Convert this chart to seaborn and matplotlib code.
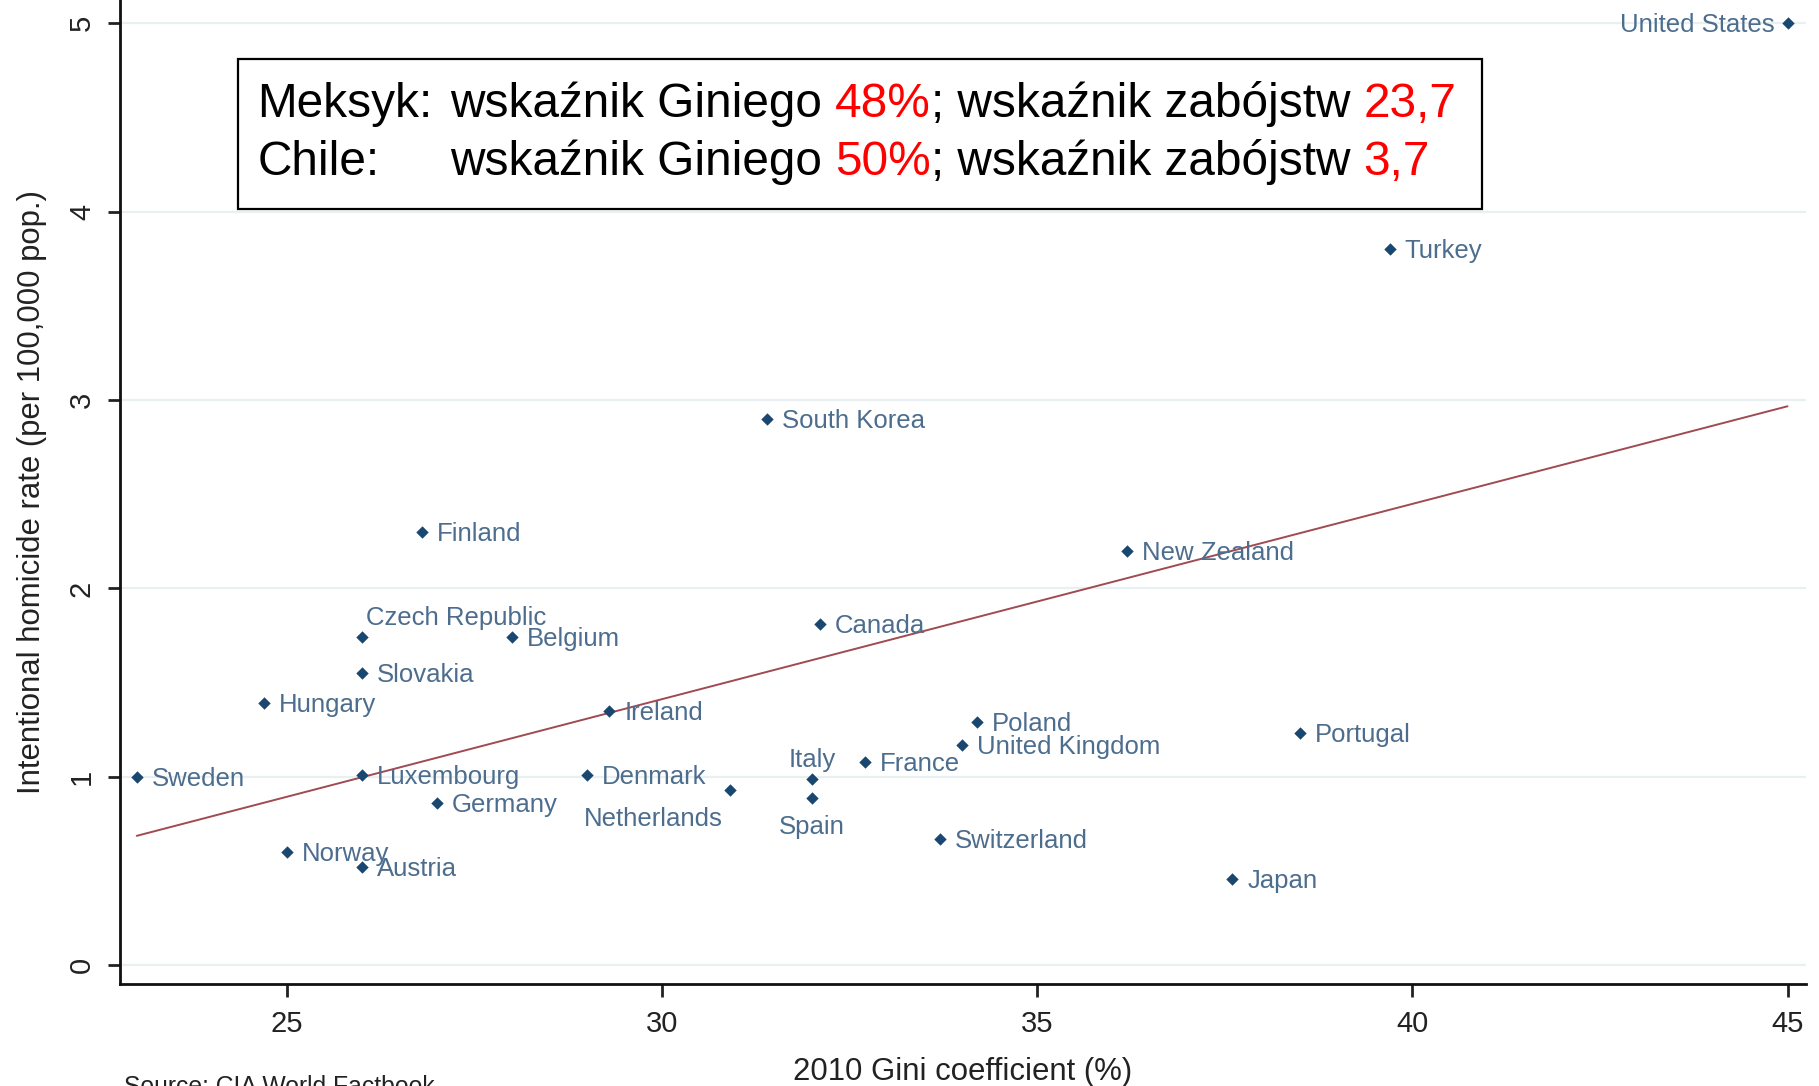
import numpy as np
import pandas as pd
import seaborn as sns
import matplotlib.pyplot as plt
from matplotlib.patches import Rectangle

# data
countries = ["United States", "Turkey", "South Korea", "Finland", "New Zealand",
             "Czech Republic", "Belgium", "Canada", "Slovakia", "Hungary", "Ireland",
             "Poland", "United Kingdom", "Portugal", "France", "Italy", "Spain",
             "Sweden", "Luxembourg", "Denmark", "Netherlands", "Germany",
             "Switzerland", "Japan", "Norway", "Austria"]
gini = [45.0, 39.7, 31.4, 26.8, 36.2,
        26.0, 28.0, 32.1, 26.0, 24.7, 29.3,
        34.2, 34.0, 38.5, 32.7, 32.0, 32.0,
        23.0, 26.0, 29.0, 30.9, 27.0,
        33.7, 37.6, 25.0, 26.0]
homicide = [5.0, 3.80, 2.90, 2.30, 2.20,
            1.74, 1.74, 1.81, 1.55, 1.39, 1.35,
            1.29, 1.17, 1.23, 1.08, 0.99, 0.89,
            1.00, 1.01, 1.01, 0.93, 0.86,
            0.67, 0.46, 0.60, 0.52]

x_ticks = [25, 30, 35, 40, 45]
y_ticks = [0, 1, 2, 3, 4, 5]

# label placement exceptions (default: right of the marker)
label_side = {"United States": "left", "Czech Republic": "above_right", "Italy": "above",
              "Spain": "below", "Netherlands": "below_left"}

df = pd.DataFrame({"country": countries, "gini": gini, "homicide": homicide})

sns.set_style("white")
plt.rcParams["font.family"] = ["Liberation Sans", "DejaVu Sans"]

fig = plt.figure(figsize=(18.19, 10.86), dpi=100)
ax = fig.add_axes([0.0657, 0.0939, 0.9273, 0.9061])

navy = "#1a476f"
label_col = "#4c6d8e"
dark = "#222222"

ax.yaxis.grid(True, color="#e9f0f2", lw=1.6)
ax.xaxis.grid(False)
ax.set_axisbelow(True)

sns.regplot(data=df, x="gini", y="homicide", scatter=False, ci=None, ax=ax,
            color="#a04a52", line_kws={"lw": 1.4})
sns.scatterplot(data=df, x="gini", y="homicide", marker="D", s=40, color=navy,
                edgecolor=navy, linewidth=0, ax=ax, zorder=3)

offsets = {"right": ((15, -2), "left"),
           "left": ((-13, -2), "right"),
           "above_right": ((4, 19), "left"),
           "above": ((0, 19), "center"),
           "below": ((0, -29), "center"),
           "below_left": ((-7, -29), "right")}
for c, gx, hy in zip(countries, gini, homicide):
    off, ha = offsets[label_side.get(c, "right")]
    ax.annotate(c, (gx, hy), xytext=off, textcoords="offset pixels", ha=ha, va="center",
                fontsize=18.5, color=label_col)

ax.set_xlim(22.77, 45.25)
ax.set_ylim(-0.1, 5.123)
ax.set_xticks(x_ticks)
ax.set_yticks(y_ticks)
ax.tick_params(axis="both", length=9, width=2, color=dark, labelsize=21,
               labelcolor=dark, left=True, bottom=True)
ax.tick_params(axis="x", pad=9.5)
ax.tick_params(axis="y", labelrotation=90, pad=8)
for lab in ax.get_yticklabels():
    lab.set_va("center")

sns.despine(ax=ax, top=True, right=True)
for s in ["left", "bottom"]:
    ax.spines[s].set_linewidth(2)
    ax.spines[s].set_color("#111111")

ax.set_xlabel("2010 Gini coefficient (%)", fontsize=22.4, color=dark, labelpad=14)
ax.set_ylabel("Intentional homicide rate (per 100,000 pop.)", fontsize=22.4,
              color=dark, labelpad=15)

fig.text(124 / 1819, (1086 - 1075) / 1086, "Source: CIA World Factbook", fontsize=17.8,
         color=dark, va="top", ha="left")

# annotation box (kept in the axes so it sorts by zorder with its texts)
ax.add_patch(Rectangle((238 / 1819, (1086 - 209) / 1086), 1244 / 1819, 150 / 1086,
                       transform=fig.transFigure, facecolor="white",
                       edgecolor="black", lw=1.6, zorder=5, clip_on=False))

box_font = {"fontsize": 34.4, "zorder": 6}
lines = [("Meksyk:", "wskaźnik Giniego ", "48%", "; wskaźnik zabójstw ", "23,7"),
         ("Chile:", "wskaźnik Giniego ", "50%", "; wskaźnik zabójstw ", "3,7")]
baselines = [(1086 - 117) / 1086, (1086 - 175) / 1086]
for (lead, p1, r1, p2, r2), yb in zip(lines, baselines):
    ax.text(257.5 / 1819, yb, lead, transform=fig.transFigure, va="baseline",
            color="black", clip_on=False, **box_font)
    t = ax.text(450 / 1819, yb, p1, transform=fig.transFigure, va="baseline",
                color="black", clip_on=False, **box_font)
    for part, col in [(r1, "red"), (p2, "black"), (r2, "red")]:
        t = ax.annotate(part, xy=(1, 0), xycoords=t, va="bottom", ha="left",
                        color=col, annotation_clip=False, **box_font)

fig.savefig("out.png", dpi=100)
